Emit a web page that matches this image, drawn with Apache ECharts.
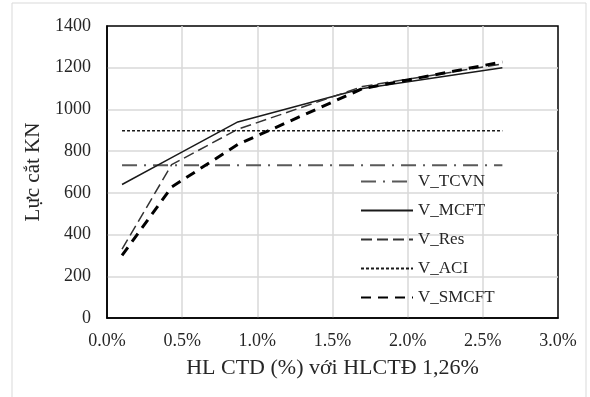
<!DOCTYPE html>
<html>
<head>
<meta charset="utf-8">
<script src="https://cdn.jsdelivr.net/npm/echarts@6/dist/echarts.min.js"></script>
<style>
  html, body { margin: 0; padding: 0; background: #fff; }
  #chart { width: 590px; height: 397px; }
</style>
</head>
<body>
<div id="chart"></div>
<script>
// ---- data ----
const xPct = [0.10, 0.43, 0.87, 1.70, 2.63];          // HL CTD (%)
const vTCVN  = [732, 732, 732, 732, 732];
const vMCFT  = [640, 769, 940, 1100, 1200];
const vRes   = [330, 735, 905, 1110, 1218];
const vACI   = [898, 898, 898, 898, 898];
const vSMCFT = [300, 628, 832, 1100, 1228];
const seriesNames = ['V_TCVN', 'V_MCFT', 'V_Res', 'V_ACI', 'V_SMCFT'];
const xTickLabels = ['0.0%', '0.5%', '1.0%', '1.5%', '2.0%', '2.5%', '3.0%'];
const yTickLabels = ['0', '200', '400', '600', '800', '1000', '1200', '1400'];
const xTitle = 'HL CTD (%) với HLCTĐ 1,26%';
const yTitle = 'Lực cắt KN';

const pair = (ys) => xPct.map((x, i) => [x, ys[i]]);
const FONT = '"Liberation Serif", "Times New Roman", serif';

const styles = [
  { color: '#595959', width: 2,   type: [15, 7, 2, 7] },
  { color: '#1a1a1a', width: 1.5, type: 'solid' },
  { color: '#333333', width: 1.5, type: [11, 5] },
  { color: '#1a1a1a', width: 1.5, type: [3, 2] },
  { color: '#000000', width: 3,   type: [10, 7] }
];
const values = [vTCVN, vMCFT, vRes, vACI, vSMCFT];

const chart = echarts.init(document.getElementById('chart'), null, { renderer: 'canvas' });
chart.setOption({
  backgroundColor: '#ffffff',
  animation: false,
  graphic: [{
    type: 'rect', silent: true, z: -10,
    shape: { x: 12, y: 3, width: 574, height: 400 },
    style: { fill: 'none', stroke: '#d9d9d9', lineWidth: 1 }
  }],
  grid: {
    left: 107, right: 32, top: 26, bottom: 79,
    show: true, borderColor: '#000', borderWidth: 1.5, backgroundColor: 'transparent'
  },
  legend: {
    orient: 'vertical',
    left: 360, top: 173,
    padding: 0,
    itemWidth: 52, itemHeight: 14, itemGap: 12,
    itemStyle: { opacity: 0, borderWidth: 0 },
    textStyle: { fontFamily: FONT, fontSize: 17, color: '#262626', lineHeight: 17 },
    data: seriesNames
  },
  xAxis: {
    type: 'value', min: 0, max: 3, interval: 0.5,
    name: xTitle, nameLocation: 'middle', nameGap: 39,
    nameTextStyle: { fontFamily: FONT, fontSize: 22, color: '#262626' },
    axisLine: { show: true, lineStyle: { color: '#000', width: 1.5 } },
    axisTick: { show: false },
    axisLabel: {
      fontFamily: FONT, fontSize: 18, color: '#262626', margin: 14,
      formatter: (v) => xTickLabels[Math.round(v / 0.5)]
    },
    splitLine: { show: true, showMinLine: false, showMaxLine: false, lineStyle: { color: '#d9d9d9', width: 1.5 } }
  },
  yAxis: {
    type: 'value', min: 0, max: 1400, interval: 200,
    name: yTitle, nameLocation: 'middle', nameGap: 63, nameRotate: 90,
    nameTextStyle: { fontFamily: FONT, fontSize: 21, color: '#262626' },
    axisLine: { show: true, lineStyle: { color: '#000', width: 1.5 } },
    axisTick: { show: false },
    axisLabel: {
      fontFamily: FONT, fontSize: 18, color: '#262626', margin: 16,
      formatter: (v) => yTickLabels[Math.round(v / 200)]
    },
    splitLine: { show: true, showMinLine: false, showMaxLine: false, lineStyle: { color: '#d9d9d9', width: 1.5 } }
  },
  series: seriesNames.map((name, i) => ({
    name: name,
    type: 'line',
    data: pair(values[i]),
    symbol: 'none',
    showSymbol: false,
    smooth: false,
    color: styles[i].color,
    lineStyle: { color: styles[i].color, width: styles[i].width, type: styles[i].type },
    z: 2 + i
  }))
});
</script>
</body>
</html>
